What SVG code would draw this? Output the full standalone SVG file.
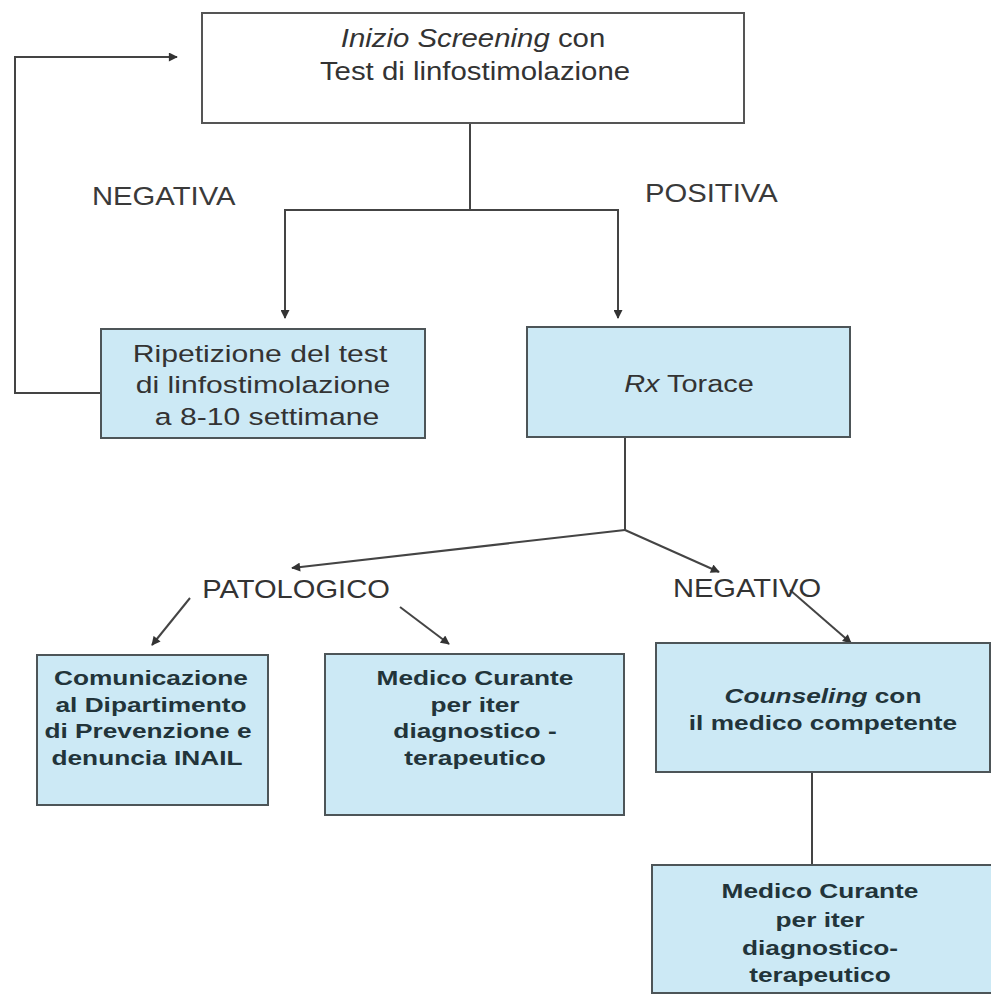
<svg xmlns="http://www.w3.org/2000/svg" width="991" height="998" viewBox="0 0 991 998">
<style>
.box{fill:#cce9f5;stroke:#4d5558;stroke-width:2}
.wbox{fill:#ffffff;stroke:#555;stroke-width:2}
.c{fill:none;stroke:#444;stroke-width:2}
.t{font-family:"Liberation Sans",Arial,sans-serif;fill:#333;text-anchor:middle}
.tl{font-family:"Liberation Sans",Arial,sans-serif;fill:#3a3a3a;text-anchor:start}
.b{font-family:"Liberation Sans",Arial,sans-serif;font-weight:bold;fill:#22343a;text-anchor:middle}
.i{font-style:italic}
</style>
<defs>
<marker id="ah" viewBox="0 0 10 10" refX="9" refY="5" markerWidth="10" markerHeight="9" markerUnits="userSpaceOnUse" orient="auto">
<path d="M0,0 L10,5 L0,10 z" fill="#333"/>
</marker>
</defs>
<rect width="991" height="998" fill="#ffffff"/>

<g id="connectors">
<polyline class="c" points="101,393 15,393 15,57 177,57" marker-end="url(#ah)"/>
<line class="c" x1="470" y1="123" x2="470" y2="210"/>
<line class="c" x1="284" y1="210" x2="619" y2="210"/>
<line class="c" x1="285" y1="210" x2="285" y2="318" marker-end="url(#ah)"/>
<line class="c" x1="618" y1="210" x2="618" y2="318" marker-end="url(#ah)"/>
<line class="c" x1="625" y1="437" x2="625" y2="530"/>
<line class="c" x1="625" y1="530" x2="292" y2="568" marker-end="url(#ah)"/>
<line class="c" x1="625" y1="530" x2="719" y2="572" marker-end="url(#ah)"/>
<line class="c" x1="190" y1="598" x2="152" y2="645" marker-end="url(#ah)"/>
<line class="c" x1="400" y1="607" x2="449" y2="644" marker-end="url(#ah)"/>
<line class="c" x1="790" y1="590" x2="851" y2="643" marker-end="url(#ah)"/>
<line class="c" x1="812" y1="772" x2="812" y2="865"/>
</g>

<g id="labels">
<text class="tl" font-size="25" transform="translate(92 205) scale(1.17 1)" x="0" y="0">NEGATIVA</text>
<text class="tl" font-size="25" transform="translate(645 202) scale(1.17 1)" x="0" y="0">POSITIVA</text>
<text class="t" font-size="26" transform="translate(296 598) scale(1.12 1)" x="0" y="0">PATOLOGICO</text>
<text class="t" font-size="26" transform="translate(747 597) scale(1.12 1)" x="0" y="0">NEGATIVO</text>
</g>

<g id="start">
<rect class="wbox" x="202" y="13" width="542" height="110"/>
<text class="t" font-size="26" transform="translate(473 47) scale(1.13 1)" x="0" y="0"><tspan class="i">Inizio Screening</tspan> con</text>
<text class="t" font-size="26" transform="translate(475 80) scale(1.13 1)" x="0" y="0">Test di linfostimolazione</text>
</g>

<g id="ripetizione">
<rect class="box" x="101" y="329" width="324" height="109"/>
<text class="t" font-size="24.5" transform="translate(260 362) scale(1.23 1)" x="0" y="0">Ripetizione del test</text>
<text class="t" font-size="24.5" transform="translate(263 393) scale(1.23 1)" x="0" y="0">di linfostimolazione</text>
<text class="t" font-size="24.5" transform="translate(267 425) scale(1.23 1)" x="0" y="0">a 8-10 settimane</text>
</g>

<g id="rx">
<rect class="box" x="527" y="327" width="323" height="110"/>
<text class="t" font-size="24.5" transform="translate(689 392) scale(1.18 1)" x="0" y="0"><tspan class="i">Rx</tspan> Torace</text>
</g>

<g id="comunicazione">
<rect class="box" x="37" y="655" width="231" height="150"/>
<text class="b" font-size="21" transform="translate(151 685) scale(1.25 1)" x="0" y="0">Comunicazione</text>
<text class="b" font-size="21" transform="translate(151 712) scale(1.25 1)" x="0" y="0">al Dipartimento</text>
<text class="b" font-size="21" transform="translate(148 738) scale(1.25 1)" x="0" y="0">di Prevenzione e</text>
<text class="b" font-size="21" transform="translate(147 765) scale(1.25 1)" x="0" y="0">denuncia INAIL</text>
</g>

<g id="medico1">
<rect class="box" x="325" y="654" width="299" height="161"/>
<text class="b" font-size="21" transform="translate(475 685) scale(1.25 1)" x="0" y="0">Medico Curante</text>
<text class="b" font-size="21" transform="translate(475 712) scale(1.25 1)" x="0" y="0">per iter</text>
<text class="b" font-size="21" transform="translate(475 738) scale(1.25 1)" x="0" y="0">diagnostico -</text>
<text class="b" font-size="21" transform="translate(475 765) scale(1.25 1)" x="0" y="0">terapeutico</text>
</g>

<g id="counseling">
<rect class="box" x="656" y="643" width="334" height="129"/>
<text class="b" font-size="21" transform="translate(823 703) scale(1.25 1)" x="0" y="0"><tspan class="i">Counseling</tspan>  con</text>
<text class="b" font-size="21" transform="translate(823 730) scale(1.25 1)" x="0" y="0">il medico competente</text>
</g>

<g id="medico2">
<rect class="box" x="652" y="865" width="342" height="128"/>
<text class="b" font-size="21" transform="translate(820 898) scale(1.25 1)" x="0" y="0">Medico Curante</text>
<text class="b" font-size="21" transform="translate(820 927) scale(1.25 1)" x="0" y="0">per iter</text>
<text class="b" font-size="21" transform="translate(820 955) scale(1.25 1)" x="0" y="0">diagnostico-</text>
<text class="b" font-size="21" transform="translate(820 982) scale(1.25 1)" x="0" y="0">terapeutico</text>
</g>
</svg>
